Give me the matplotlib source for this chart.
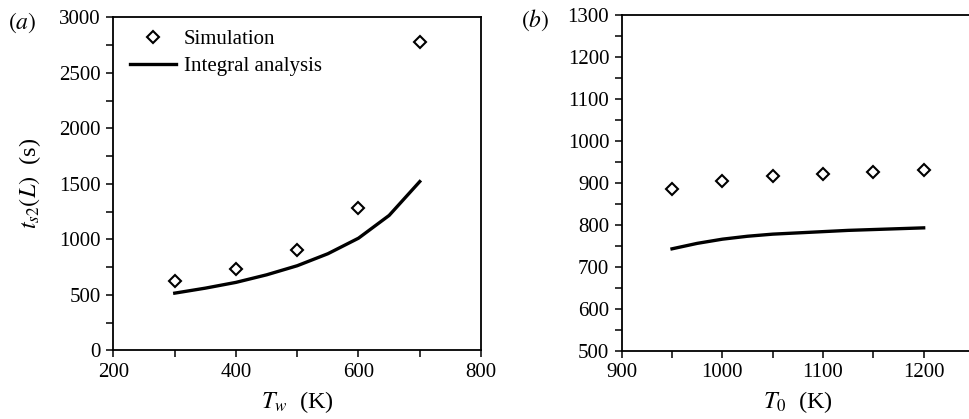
import numpy as np
import matplotlib
matplotlib.use("Agg")
import matplotlib.pyplot as plt
from matplotlib.ticker import MultipleLocator

plt.rcParams['font.family'] = ['Liberation Serif', 'DejaVu Serif']
plt.rcParams['mathtext.fontset'] = 'stix'

# panel (a): wall temperature
tw_sim = [300, 400, 500, 600, 700]
ts_sim_a = [627, 729, 903, 1284, 2780]
tw_line = [300, 350, 400, 450, 500, 550, 600, 650, 700]
ts_line_a = [515, 560, 612, 680, 762, 870, 1010, 1215, 1520]

# panel (b): initial temperature
t0_sim = [950, 1000, 1050, 1100, 1150, 1200]
ts_sim_b = [886, 904, 916, 922, 927, 931]
t0_line = [950, 975, 1000, 1025, 1050, 1075, 1100, 1125, 1150, 1175, 1200]
ts_line_b = [743, 756, 766, 773, 778, 781, 784, 787, 789, 791, 793]

W, H = 970, 419
fig = plt.figure(figsize=(W / 100, H / 100), dpi=100)

ax1 = fig.add_axes([113.5 / W, (H - 350.3) / H, (481 - 113.5) / W, (350.3 - 17.3) / H])
ax2 = fig.add_axes([621.7 / W, (H - 350.7) / H, (974 - 621.7) / W, (350.7 - 15.3) / H])

fs = 15

def style(ax):
    for s in ax.spines.values():
        s.set_linewidth(1.3)
    ax.tick_params(which='both', direction='out', width=1.1, labelsize=fs, pad=4)
    ax.tick_params(which='major', length=5)
    ax.tick_params(which='minor', length=5)

ax1.plot(tw_sim, ts_sim_a, linestyle='none', marker='D', markersize=6.5,
         markerfacecolor='white', markeredgecolor='black', markeredgewidth=1.5,
         label='Simulation')
ax1.plot(tw_line, ts_line_a, color='black', lw=2.4, label='Integral analysis')
ax1.set_xlim(200, 800)
ax1.set_ylim(0, 3000)
ax1.xaxis.set_major_locator(MultipleLocator(200))
ax1.xaxis.set_minor_locator(MultipleLocator(100))
ax1.yaxis.set_major_locator(MultipleLocator(500))
ax1.yaxis.set_minor_locator(MultipleLocator(250))
style(ax1)
ax1.set_xlabel(r'$T_w$  (K)', fontsize=17.5, labelpad=5)
ax1.set_ylabel(r'$t_{s2}(L)$  (s)', fontsize=17.5, labelpad=12)
ax1.legend(loc='upper left', frameon=False, fontsize=fs, handlelength=2.2,
           handletextpad=0.4, borderaxespad=0.2, labelspacing=0.35,
           bbox_to_anchor=(0.01, 1.0))

ax2.plot(t0_sim, ts_sim_b, linestyle='none', marker='D', markersize=6.5,
         markerfacecolor='white', markeredgecolor='black', markeredgewidth=1.5)
ax2.plot(t0_line, ts_line_b, color='black', lw=2.4)
ax2.set_xlim(900, 1250)
ax2.set_ylim(500, 1300)
ax2.xaxis.set_major_locator(MultipleLocator(100))
ax2.xaxis.set_minor_locator(MultipleLocator(50))
ax2.yaxis.set_major_locator(MultipleLocator(100))
ax2.yaxis.set_minor_locator(MultipleLocator(50))
style(ax2)
ax2.set_xlabel(r'$T_0$  (K)', fontsize=17.5, labelpad=5)

fig.text(22 / W, 1 - 23 / H, r'$(a)$', fontsize=17, ha='center', va='center')
fig.text(535 / W, 1 - 20 / H, r'$(b)$', fontsize=17, ha='center', va='center')

fig.savefig('out.png', dpi=100)
